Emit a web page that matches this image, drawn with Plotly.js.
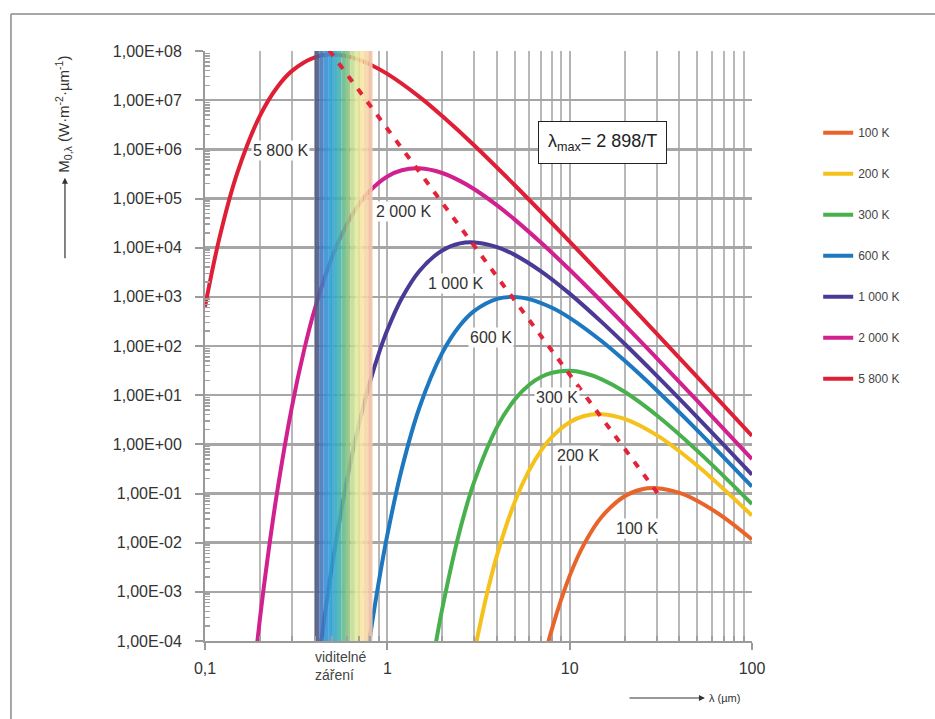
<!DOCTYPE html>
<html><head><meta charset="utf-8">
<script src="https://cdn.plot.ly/plotly-3.0.1.min.js"></script>
<style>html,body{margin:0;padding:0;background:#fff}#chart{width:935px;height:719px}</style>
</head><body><div id="chart"></div>
<script>
// ---- data (wavelength in µm, spectral exitance in W·m-2·µm-1) ----
const seriesNames = ['100 K', '200 K', '300 K', '600 K', '1 000 K', '2 000 K', '5 800 K'];

const wl100 = [7, 8, 10, 12, 15, 20, 25, 30, 40, 50, 70, 100];
const m100  = [2.64e-5, 1.77e-4, 2.11e-3, 9.33e-3, 0.0336, 0.0879, 0.122, 0.128, 0.103, 0.0714, 0.0327, 0.0116];

const wl200 = [3, 3.5, 4, 5, 6, 7, 8, 10, 12, 15, 20, 30, 50, 100];
const m200  = [5.93e-5, 8.4e-4, 5.65e-3, 0.0675, 0.299, 0.766, 1.42, 2.81, 3.76, 4.11, 3.30, 1.54, 0.372, 0.0355];

const wl300 = [1.8, 2, 2.5, 3, 4, 5, 6, 7, 8, 10, 12, 15, 20, 30, 50, 100];
const m300  = [5.3e-5, 4.5e-4, 0.0179, 0.176, 2.27, 8.17, 16.3, 23.6, 28.5, 31.2, 28.2, 21.0, 11.7, 3.90, 0.744, 0.0608];

const wl600 = [0.75, 0.8, 0.9, 1, 1.2, 1.5, 2, 2.5, 3, 4, 5, 6, 8, 10, 15, 20, 30, 50, 100];
const m600  = [2.05e-5, 1.1e-4, 1.70e-3, 0.0144, 0.315, 5.62, 72.6, 262, 520, 912, 998, 901, 600, 374, 125, 50.5, 12.6, 1.95, 0.138];

const wl1000 = [0.4, 0.45, 0.5, 0.6, 0.7, 0.8, 0.9, 1, 1.2, 1.5, 2, 2.5, 3, 4, 5, 7, 10, 15, 20, 30, 50, 100];
const m1000  = [8.7e-6, 2.64e-4, 3.81e-3, 0.185, 2.64, 17.6, 72.3, 211, 933, 3364, 8788, 1.22e4, 1.28e4, 1.03e4, 7138, 3269, 1164, 306, 111, 25.0, 3.59, 0.242];

const wl2000 = [0.18, 0.2, 0.22, 0.25, 0.3, 0.35, 0.4, 0.5, 0.6, 0.7, 0.8, 1, 1.2, 1.5, 2, 2.5, 3, 4, 5, 7, 10, 20, 30, 50, 100];
const m2000  = [8.7e-6, 2.79e-4, 4.57e-3, 0.122, 5.93, 84.3, 565, 6752, 2.99e4, 7.66e4, 1.42e5, 2.81e5, 3.76e5, 4.11e5, 3.30e5, 2.28e5, 1.54e5, 7.25e4, 3.72e4, 1.24e4, 3553, 270, 56.8, 7.74, 0.502];

const wl5800 = [0.1, 0.12, 0.15, 0.2, 0.25, 0.3, 0.4, 0.5, 0.6, 0.7, 0.8, 1, 1.5, 2, 3, 5, 10, 20, 30, 50, 100];
const m5800  = [630, 1.58e4, 3.24e5, 4.80e6, 1.88e7, 3.95e7, 7.42e7, 8.44e7, 7.83e7, 6.63e7, 5.38e7, 3.42e7, 1.17e7, 4.76e6, 1.20e6, 1.86e5, 1.33e4, 885, 179, 23.5, 1.49];

// Wien displacement line (peaks)
const wienWl = [0.48, 32];
const wienM  = [1.03e8, 0.078];

const yTickVals = [1e-4, 1e-3, 1e-2, 1e-1, 1, 1e1, 1e2, 1e3, 1e4, 1e5, 1e6, 1e7, 1e8];
const yTickText = ['1,00E-04', '1,00E-03', '1,00E-02', '1,00E-01', '1,00E+00', '1,00E+01', '1,00E+02',
                   '1,00E+03', '1,00E+04', '1,00E+05', '1,00E+06', '1,00E+07', '1,00E+08'];
const xTickVals = [0.1, 1, 10, 100];
const xTickText = ['0,1', '1', '10', '100'];

const visibleRange = [0.40, 0.83];
const yRange = [-4, 8];

// ---- styling ----
const colors = ['#e9642b', '#f5c21c', '#48b04c', '#1d78c0', '#4a3a96', '#d0218f', '#de1f35'];
const xs = [wl100, wl200, wl300, wl600, wl1000, wl2000, wl5800];
const ys = [m100, m200, m300, m600, m1000, m2000, m5800];

const traces = seriesNames.map((n, i) => ({
  type: 'scatter', mode: 'lines', name: n, x: xs[i], y: ys[i],
  legendgroup: 'g' + i,
  line: {color: colors[i], width: 4, shape: 'spline', smoothing: 1},
  hoverinfo: 'x+y+name'
}));

// visible band gradient (filled regions drawn over the curves, under the Wien line)
const bandColors = ['#4f5b86', '#4279bd', '#3690d3', '#2e9fd6', '#34aacb', '#46b2ae', '#66ba8f',
                    '#93c784', '#c3db93', '#e6e99c', '#f5e7a2', '#f6d6a6', '#f4c6a6'];
const l0 = Math.log10(visibleRange[0]), l1 = Math.log10(visibleRange[1]);
const yLo = Math.pow(10, yRange[0]), yHi = Math.pow(10, yRange[1]);
bandColors.forEach((c, i) => {
  const a = Math.pow(10, l0 + (l1 - l0) * i / bandColors.length);
  const b = Math.pow(10, l0 + (l1 - l0) * (i + 1) / bandColors.length);
  traces.push({
    type: 'scatter', mode: 'none', x: [a, b, b, a, a], y: [yLo, yLo, yHi, yHi, yLo],
    fill: 'toself', fillcolor: c, opacity: 0.9, showlegend: false, hoverinfo: 'skip'
  });
});

traces.push({
  type: 'scatter', mode: 'lines', x: wienWl, y: wienM, showlegend: false,
  line: {color: '#e2233a', width: 4, dash: '7px,9px'}
});

// minor tick positions (2..9 in each decade)
const minorVals = [];
for (let d = -4; d < 8; d++) for (let k = 2; k <= 9; k++) minorVals.push(k * Math.pow(10, d));

const shapes = [
  {type: 'line', xref: 'paper', yref: 'paper', x0: -0.3547, x1: -0.3547, y0: 1.0627, y1: -0.14,
   line: {color: '#8a8a8a', width: 1.5}},
  {type: 'line', xref: 'paper', yref: 'paper', x0: -0.3547, x1: 1.34, y0: 1.0627, y1: 1.0627,
   line: {color: '#8a8a8a', width: 1.5}}
];

const FF = 'Liberation Sans, Arial, sans-serif';
const lblFont = {family: FF, size: 16, color: '#333'};
function lab(text, lx, ly) {
  return {x: lx, y: ly, xref: 'x', yref: 'y', text: text, showarrow: false,
          bgcolor: 'rgba(255,255,255,0.95)', borderpad: 1, font: lblFont};
}
const annotations = [
  lab('5 800 K', -0.588, 5.967),
  lab('2 000 K', 0.088, 4.727),
  lab('1 000 K', 0.374, 3.264),
  lab('600 K', 0.571, 2.167),
  lab('300 K', 0.929, 0.947),
  lab('200 K', 1.044, -0.232),
  lab('100 K', 1.368, -1.715),
  {x: 1.181, y: 6.13, xref: 'x', yref: 'y', showarrow: false,
   text: 'λ<sub>max</sub>= 2 898/T', bgcolor: '#fff', bordercolor: '#222', borderwidth: 1, borderpad: 9,
   font: {family: FF, size: 18, color: '#222'}},
  {x: 0.197, y: -0.042, xref: 'paper', yref: 'paper', xanchor: 'left', yanchor: 'middle', align: 'left',
   showarrow: false, text: 'viditelné<br>záření',
   font: {family: FF, size: 14, color: '#444'}},
  // y axis title
  {x: -0.258, y: 0.8935, xref: 'paper', yref: 'paper', xanchor: 'center', yanchor: 'middle',
   textangle: -90, showarrow: false,
   text: 'M<sub>0,λ</sub> (W·m<sup>-2</sup>·µm<sup>-1</sup>)',
   font: {family: FF, size: 15, color: '#333'}},
  {x: -0.256, y: 0.785, xref: 'paper', yref: 'paper', text: '', showarrow: true,
   ax: 0, ay: 82, arrowhead: 2, arrowsize: 1, arrowwidth: 1.2, arrowcolor: '#333'},
  // x axis title
  {x: 0.914, y: -0.0966, xref: 'paper', yref: 'paper', text: '', showarrow: true,
   ax: -77, ay: 0, arrowhead: 2, arrowsize: 1, arrowwidth: 1.2, arrowcolor: '#333'},
  {x: 0.917, y: -0.0966, xref: 'paper', yref: 'paper', xanchor: 'left', yanchor: 'middle', showarrow: false,
   text: 'λ (µm)', font: {family: FF, size: 11, color: '#333'}}
];

const layout = {
  width: 935, height: 719,
  margin: {l: 205, r: 183, t: 51, b: 78},
  paper_bgcolor: '#fff', plot_bgcolor: '#fff',
  separators: ', ',
  font: {family: FF, size: 16, color: '#333'},
  showlegend: true,
  legend: {x: 1.121, y: 0.886, xanchor: 'left', yanchor: 'top', traceorder: 'grouped',
           tracegroupgap: 22, font: {size: 12, color: '#444'}, bgcolor: 'rgba(0,0,0,0)'},
  xaxis: {type: 'log', range: [-1, 2], tickmode: 'array', tickvals: xTickVals, ticktext: xTickText,
          showgrid: true, gridcolor: '#b3b3b3', gridwidth: 2,
          showline: true, linecolor: '#9a9a9a', linewidth: 2,
          ticks: 'outside', ticklen: 7, tickwidth: 2, tickcolor: '#9a9a9a',
          ticklabelstandoff: 5, zeroline: false,
          minor: {tickmode: 'array', tickvals: minorVals, showgrid: true, gridcolor: '#b8b8b8', gridwidth: 2,
                  ticks: 'inside', ticklen: 5, tickcolor: '#a0a0a0'}},
  yaxis: {type: 'log', range: yRange, tickmode: 'array', tickvals: yTickVals, ticktext: yTickText,
          showgrid: true, gridcolor: '#a6a6a6', gridwidth: 2.5,
          showline: true, linecolor: '#9a9a9a', linewidth: 2,
          ticks: 'outside', ticklen: 8, tickwidth: 2, tickcolor: '#9a9a9a',
          ticklabelstandoff: 10, zeroline: false,
          minor: {tickmode: 'array', tickvals: minorVals, showgrid: false,
                  ticks: 'inside', ticklen: 5, tickwidth: 1.5, tickcolor: '#a0a0a0'}},
  shapes: shapes,
  annotations: annotations
};

Plotly.newPlot('chart', traces, layout, {displayModeBar: false, staticPlot: true});
</script></body></html>
